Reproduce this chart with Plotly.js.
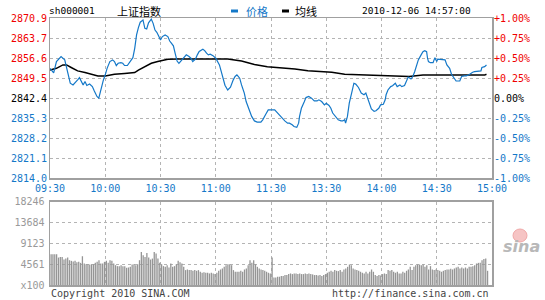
<!DOCTYPE html>
<html><head><meta charset="utf-8">
<script src="https://cdn.plot.ly/plotly-3.0.1.min.js"></script>
<style>html,body{margin:0;padding:0;background:#fff;}#c{width:545px;height:300px;}</style>
</head><body><div id="c"></div>
<script>
// ---- data ----
const timeTickMinutes = [0, 30, 60, 90, 120, 150, 180, 210, 240];
const timeTickLabels = ['09:30','10:00','10:30','11:00','11:30','13:30','14:00','14:30','15:00'];
const priceTickLabels = ['2814.0','2821.1','2828.2','2835.3','2842.4','2849.5','2856.6','2863.7','2870.9'];
const pctTickLabels = ['-1.00%','-0.75%','-0.50%','-0.25%','0.00%','+0.25%','+0.50%','+0.75%','+1.00%'];
const volTickLabels = ['x100','4561','9123','13684','18246'];
const volTickValues = [0, 4561, 9123, 13684, 18246];

const priceMin = [0,2,3.5,6,8,9,10,11,12.5,13.5,15,16,17,18,19,20,21.5,23,24,25.5,26.5,27.5,29,30,31,32.5,34,35,36,37,38.5,39.5,40.5,42,43,45,46,47,48,49,50.5,51.5,52.5,53.5,55,56,57,58,59,60,61,62.5,64,65,66,67,68,69,70,71.5,73,74,75.5,76.5,77.5,79,80,81,83,84,85,86,87,88.5,90,91,92,93,94,95,96.5,98,99.5,100.5,101.5,103,104,105.5,106.5,108,109.5,111,112.5,114.5,115.5,117,118.5,122,123.5,125,126,127.5,129,130,131.5,132.5,134,135,135.5,136.5,138,139,140.5,142,143.5,145,146,147.5,149,150,151.5,152.5,153.5,155,156.5,158,159,160,160.5,161.5,162.5,164,165,166,167.5,169,170.5,171.5,172.5,173.5,174.5,176,177,178.5,179.5,181,182,182.5,183.5,185,186,187.5,188.5,190,191,192.5,193.5,194.5,196,197,198,199,200,201.5,202.5,203.5,204.5,205,205.5,206.5,208,209,210,210.5,212,213.5,214.5,215.5,217,218,219.5,220.5,222.5,223.5,225,226,227.5,228.5,229.5,230.5,232.5,234,234.5,236,237];
const price = [2853.0,2851.4,2855.4,2857.2,2856.0,2853.0,2850.1,2847.7,2847.1,2847.7,2848.9,2849.7,2848.3,2847.1,2848.3,2846.9,2847.4,2846.5,2845.0,2843.0,2842.4,2845.3,2848.9,2850.7,2853.0,2855.4,2856.0,2855.4,2854.0,2854.8,2855.0,2854.8,2854.0,2854.0,2854.8,2856.8,2860.1,2864.9,2867.5,2869.4,2870.2,2867.2,2867.0,2869.2,2870.5,2869.0,2866.6,2865.8,2864.5,2863.1,2864.3,2864.9,2864.3,2862.7,2861.9,2861.0,2858.2,2855.6,2854.8,2856.0,2857.2,2857.8,2857.2,2856.6,2855.4,2856.3,2857.8,2859.0,2859.8,2859.3,2858.4,2857.8,2858.0,2857.5,2856.6,2855.6,2854.2,2851.8,2849.5,2847.0,2845.3,2846.3,2848.9,2850.1,2850.7,2849.5,2847.1,2844.2,2841.2,2838.2,2835.9,2834.3,2833.9,2833.9,2834.7,2836.5,2838.2,2838.2,2837.1,2835.9,2835.0,2834.3,2833.5,2833.5,2832.9,2832.3,2832.0,2833.5,2835.9,2838.8,2841.0,2842.6,2843.0,2842.4,2841.4,2841.4,2841.8,2841.2,2840.0,2840.6,2839.8,2838.8,2837.1,2835.9,2834.7,2834.3,2834.3,2834.7,2833.5,2835.9,2840.6,2844.8,2847.7,2847.4,2846.2,2844.2,2843.6,2844.2,2842.4,2840.0,2838.6,2837.7,2837.9,2838.8,2840.0,2840.2,2841.8,2843.6,2845.3,2846.5,2846.8,2847.7,2846.5,2847.1,2846.5,2846.9,2848.5,2849.9,2849.2,2850.1,2851.8,2854.2,2856.0,2857.8,2858.9,2859.3,2858.9,2856.6,2855.4,2855.0,2855.0,2856.8,2855.4,2856.3,2856.2,2856.2,2856.0,2854.2,2853.0,2850.9,2849.5,2848.5,2848.5,2850.1,2850.3,2850.3,2850.7,2851.3,2851.6,2851.8,2852.1,2852.1,2853.3,2853.6,2854.2];

const avgMin = [0,3.5,7,9,11.5,15,19,22.5,26,30,35,40.5,46,48,51.5,55,58.5,64,69.5,96.5,104,111,118,125.5,133,140,146.5,153,160,169,181.5,195,202.5,236,237];
const avgPrice = [2852.4,2853.0,2854.2,2854.2,2853.3,2852.1,2851.5,2850.9,2850.3,2850.3,2850.9,2851.2,2851.5,2852.4,2853.6,2854.8,2855.4,2856.2,2856.3,2856.3,2855.6,2854.4,2853.6,2853.3,2852.8,2852.1,2851.8,2851.6,2850.9,2850.7,2850.3,2850.1,2850.6,2850.6,2850.9];

const volume = [
6730,6730,6730,6730,6010,6150,6150,5580,5790,6010,
5430,5290,5140,5290,5000,5070,4850,6300,4710,4560,
4560,4490,4560,4560,4850,5070,5430,4710,4710,5070,
5290,4850,5430,5290,4710,4340,4130,4130,4340,4130,
4130,3770,3840,3980,4490,4560,4340,4560,5430,7240,
6520,6150,7020,6010,5580,5790,7240,6880,5790,4850,
4560,4130,3980,4340,3840,4710,3980,4130,4560,5290,
5000,4710,3980,3260,3400,3260,3260,3110,3260,3110,
3260,2900,2680,2820,2680,2680,2530,2680,2530,2390,
2680,3110,3400,3620,3980,4340,4560,4560,4340,3260,
2900,2900,2900,3110,2900,3400,3620,4340,5430,4850,
5430,4560,3980,3620,3400,3260,3110,2900,2680,2530,
6010,1670,1670,1810,1810,1960,1960,2170,2170,2390,
2530,2390,2530,2530,2390,2530,2390,2390,2530,2390,
2530,2390,2320,2170,2170,2100,2170,1960,2170,2390,
2680,2900,3110,2900,3260,3110,3040,3260,2900,3400,
3620,3980,4490,4340,3620,3400,3260,3110,2900,2680,
2530,2900,2530,2900,3400,2900,2170,1960,2170,2100,
2390,2530,2390,3260,3110,3260,2900,2680,2900,2530,
2530,2900,2680,3110,3400,3980,3260,3980,4340,4490,
4490,4340,4490,3980,4340,3400,4130,3400,3260,3400,
3260,3110,2900,3110,3260,3400,3400,3550,3400,3620,
3840,3980,3620,3840,3620,3840,3620,3980,3980,4130,
4340,4710,4850,4850,5430,5720,5790,3110];

// ---- style ----
const BLUE = '#1478c8', RED = '#f00000', GRAY = '#999999', GRID = '#b4b4b4', FRAME = '#a0a0a0';
const MONO = 'DejaVu Sans Mono';
const CJK = 'Noto Sans CJK SC';
const L = 50, R = 492, T = 18, B = 285;
const W = 545, H = 300;
const px = x => (x - L) / (R - L);
const py = y => (B - y) / (B - T);

const pLo = parseFloat(priceTickLabels[0]), pHi = parseFloat(priceTickLabels[priceTickLabels.length - 1]);
const nT = priceTickLabels.length - 1, mid = nT / 2;
const priceTickVals = priceTickLabels.map((_, i) => pLo + (pHi - pLo) * i / nT);
const pctVals = pctTickLabels.map(t => parseFloat(t));
// split tick labels into colour groups: below base (blue), base (black), above (red)
const groups = [
  {color: BLUE, keep: i => i < mid},
  {color: '#000', keep: i => i === mid},
  {color: RED, keep: i => i > mid}
];
const pick = (arr, g) => arr.filter((_, i) => g.keep(i));

const volX = volume.map((_, i) => i + 0.6);

const traces = [
  {x: avgMin, y: avgPrice, type: 'scatter', mode: 'lines', line: {color: '#000', width: 1.5}, xaxis: 'x', yaxis: 'y', hoverinfo: 'skip'},
  {x: priceMin, y: price, type: 'scatter', mode: 'lines', line: {color: BLUE, width: 1.2}, xaxis: 'x', yaxis: 'y', hoverinfo: 'skip'},
  {x: volX, y: volume, type: 'bar', marker: {color: '#959595', line: {width: 0}}, xaxis: 'x2', yaxis: 'y2', hoverinfo: 'skip'}
];

const gridAxis = {showgrid: true, gridcolor: GRID, griddash: 'dot', gridwidth: 1, zeroline: false,
  showline: true, mirror: true, linecolor: FRAME, linewidth: 1.5, ticks: '', fixedrange: true};

const layout = {
  width: W, height: H, margin: {l: L, r: W - R, t: T, b: H - B},
  paper_bgcolor: '#fff', plot_bgcolor: '#fff', showlegend: false, bargap: 0.3,
  font: {family: MONO, size: 10, color: '#000'},
  xaxis: Object.assign({}, gridAxis, {domain: [0, 1], anchor: 'y', range: [0, 240],
    tickmode: 'array', tickvals: timeTickMinutes, ticktext: timeTickLabels,
    tickfont: {family: MONO, size: 10, color: BLUE}}),
  yaxis: Object.assign({}, gridAxis, {domain: [py(178), 1], anchor: 'x', range: [pLo, pHi],
    tickmode: 'array', tickvals: priceTickVals, showticklabels: false}),
  xaxis2: Object.assign({}, gridAxis, {domain: [0, 1], anchor: 'y2', range: [0, 240],
    tickmode: 'array', tickvals: timeTickMinutes, showticklabels: false}),
  yaxis2: Object.assign({}, gridAxis, {domain: [0, py(201.7)], anchor: 'x2', range: [0, volTickValues[4]],
    tickmode: 'array', tickvals: volTickValues, ticktext: volTickLabels,
    tickfont: {family: MONO, size: 10, color: GRAY}, ticklabelstandoff: 2}),
  shapes: [
    {type: 'line', xref: 'paper', yref: 'paper', x0: px(231), x1: px(238), y0: py(11), y1: py(11), line: {color: BLUE, width: 3}},
    {type: 'line', xref: 'paper', yref: 'paper', x0: px(282), x1: px(289), y0: py(11), y1: py(11), line: {color: '#000', width: 3}},
    {type: 'circle', xref: 'paper', yref: 'paper', x0: px(513), x1: px(527), y0: py(229), y1: py(242), fillcolor: '#f6c4c4', line: {color: '#f0a8a8', width: 1}, layer: 'below'}
  ],
  annotations: [
    {text: 'sh000001', x: px(47), y: py(11), xanchor: 'left', font: {family: MONO, size: 9.5, color: '#000'}},
    {text: '上证指数', x: px(115), y: py(11), xanchor: 'left', font: {family: CJK, size: 11, color: '#000'}},
    {text: '价格', x: px(244), y: py(11), xanchor: 'left', font: {family: CJK, size: 11, color: BLUE}},
    {text: '均线', x: px(293), y: py(11), xanchor: 'left', font: {family: CJK, size: 11, color: '#000'}},
    {text: '2010-12-06 14:57:00', x: px(473), y: py(11), xanchor: 'right', font: {family: MONO, size: 9.5, color: '#000'}},
    {text: 'Copyright 2010 SINA.COM', x: px(49), y: py(293), xanchor: 'left', font: {family: MONO, size: 10, color: '#444'}},
    {text: 'http://finance.sina.com.cn', x: px(491), y: py(293), xanchor: 'right', font: {family: MONO, size: 10, color: '#444'}},
    {text: '<b><i>sina</i></b>', x: px(521), y: py(246), xanchor: 'center', font: {family: 'DejaVu Sans', size: 16, color: '#b8b8b8'}}
  ].map(a => Object.assign({xref: 'paper', yref: 'paper', yanchor: 'middle', showarrow: false}, a))
};

// colour-grouped label axes (left: price, right: percent), all sharing the price domain
let axNum = 3;
groups.forEach(g => {
  const ln = 'yaxis' + axNum, lid = 'y' + axNum; axNum++;
  const rn = 'yaxis' + axNum, rid = 'y' + axNum; axNum++;
  layout[ln] = {overlaying: 'y', side: 'left', anchor: 'x', range: [pLo, pHi], showgrid: false, zeroline: false,
    showline: false, ticks: '', tickmode: 'array', tickvals: pick(priceTickVals, g), ticktext: pick(priceTickLabels, g),
    tickfont: {family: MONO, size: 10, color: g.color}, ticklabelstandoff: 2, fixedrange: true};
  layout[rn] = {overlaying: 'y', side: 'right', anchor: 'x', range: [-1, 1], showgrid: false, zeroline: false,
    showline: false, ticks: '', tickmode: 'array', tickvals: pick(pctVals, g), ticktext: pick(pctTickLabels, g),
    tickfont: {family: MONO, size: 10, color: g.color}, ticklabelstandoff: 1, fixedrange: true};
  traces.push({x: [0, 240], y: [pLo, pHi], type: 'scatter', mode: 'markers', marker: {opacity: 0}, xaxis: 'x', yaxis: lid, hoverinfo: 'skip'});
  traces.push({x: [0, 240], y: [-1, 1], type: 'scatter', mode: 'markers', marker: {opacity: 0}, xaxis: 'x', yaxis: rid, hoverinfo: 'skip'});
});

Plotly.newPlot('c', traces, layout, {displayModeBar: false, staticPlot: true});
</script>
</body></html>
